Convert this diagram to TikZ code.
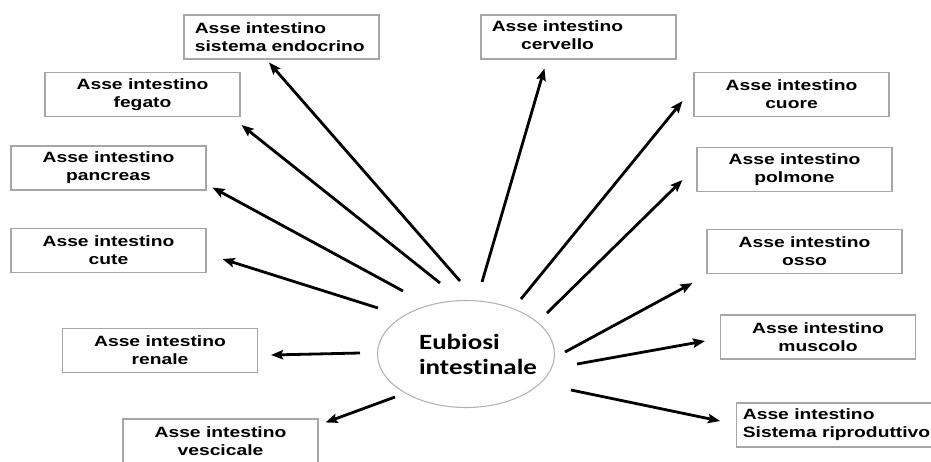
\documentclass[tikz,border=0pt]{standalone}
\usepackage{fontspec}
\setmainfont{Liberation Sans}[FakeStretch=1.29]
\newfontfamily\eubfont{Carlito}[FakeStretch=1.24,Ligatures=CommonOff]
\usetikzlibrary{arrows.meta,calc,shapes.geometric}

\newcommand{\twoc}[2]{\begin{tabular}{@{}c@{}}#1\\#2\end{tabular}}

\tikzset{
  asse/.style={draw=gray!70, line width=0.8pt, minimum width=146.25pt, minimum height=33pt,
    inner sep=2pt, align=center, font=\fontsize{11.2}{13.5}\selectfont\bfseries},
  assel/.style={asse, align=left, text width=130pt, inner xsep=8pt},
  eubox/.style={ellipse, draw=gray!60, line width=0.8pt, minimum width=132.75pt, minimum height=80.25pt, inner sep=0pt},
  eutext/.style={align=left, inner sep=0pt, font=\eubfont\fontsize{16.3}{18.75}\selectfont\bfseries},
  arr/.style={-{Stealth[length=9pt,width=7pt,inset=1.5pt]}, line width=2.1pt}
}

\begin{document}
\begin{tikzpicture}[x=0.75pt,y=-0.75pt]
\useasboundingbox (0,0) rectangle (931,461);
\clip (0,0) rectangle (931,461);

\node[eubox] (eu) at (466,354) {};
\node[eutext] (eut) at (478,354) {Eubiosi\\intestinale};

\node[assel] (endo) at (281.5,37) {Asse intestino\\sistema endocrino};
\node[assel] (cerv) at (578.5,37) {\twoc{Asse intestino}{cervello}};
\node[asse] (feg) at (142.5,94.5) {Asse intestino\\fegato};
\node[asse] (cuore) at (791.5,94.5) {Asse intestino\\cuore};
\node[asse] (panc) at (108.5,168) {Asse intestino\\pancreas};
\node[asse] (polm) at (794.5,169.5) {Asse intestino\\polmone};
\node[asse] (cute) at (108.5,250.5) {Asse intestino\\cute};
\node[asse] (osso) at (804.5,251.5) {Asse intestino\\osso};
\node[asse] (ren) at (160,350.5) {Asse intestino\\renale};
\node[asse] (musc) at (818,337) {Asse intestino\\muscolo};
\node[asse] (vesc) at (220.5,441) {Asse intestino\\vescicale};
\node[asse, anchor=west, align=left, inner xsep=4.5pt, minimum width=150pt] (repr) at (736,425)
  {Asse intestino\\Sistema riproduttivo};

\coordinate (t-endo) at (460,281);
\coordinate (t-feg) at (440,283);
\coordinate (t-panc) at (403,291);
\coordinate (t-cute) at (378,308);
\coordinate (t-ren) at (360,353);
\coordinate (t-vesc) at (395,397);
\coordinate (t-cerv) at (482,282);
\coordinate (t-cuore) at (521,299);
\coordinate (t-polm) at (547,313);
\coordinate (t-osso) at (565,352);
\coordinate (t-musc) at (577,364);
\coordinate (t-repr) at (571,390);

\path[arr] (t-endo) edge ($(endo.south)+(-12.5,3)$)
   (t-feg) edge ($(feg.south east)+(1,8)$)
   (t-panc) edge ($(panc.south east)+(6,-3)$)
   (t-cute) edge ($(cute.east)+(16,8.5)$)
   (t-ren) edge ($(ren.east)+(13,4.5)$)
   (t-vesc) edge ($(vesc.north east)+(7,4)$)
   (t-cerv) edge ($(cerv.south west)+(64,9)$)
   (t-cuore) edge ($(cuore.west)+(-11,6.5)$)
   (t-polm) edge ($(polm.west)+(-14,10.5)$)
   (t-osso) edge ($(osso.south west)+(-14,9)$)
   (t-musc) edge ($(musc.west)+(-15,4)$)
   (t-repr) edge ($(repr.west)+(-16,-4)$);
\end{tikzpicture}
\end{document}
